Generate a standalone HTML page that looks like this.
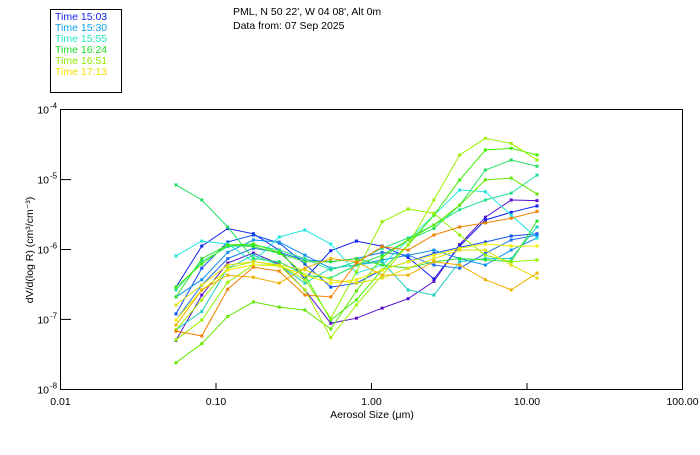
<!DOCTYPE html>
<html><head><meta charset="utf-8"><style>
body{margin:0;background:#fff;}
svg text{font-family:"Liberation Sans",sans-serif;}
</style></head><body>
<svg id="chart" width="700" height="450" xmlns="http://www.w3.org/2000/svg">
<rect width="700" height="450" fill="#fff"/>
<g>
<rect x="50.5" y="9.5" width="71" height="83" fill="none" stroke="#000"/>
<text x="55" y="20" font-size="10.5" fill="#1020f0">Time 15:03</text>
<text x="55" y="31" font-size="10.5" fill="#10a0f0">Time 15:30</text>
<text x="55" y="42" font-size="10.5" fill="#20e8c0">Time 15:55</text>
<text x="55" y="53" font-size="10.5" fill="#20e020">Time 16:24</text>
<text x="55" y="64" font-size="10.5" fill="#90e800">Time 16:51</text>
<text x="55" y="75" font-size="10.5" fill="#f0e000">Time 17:13</text>
</g>
<text x="233" y="15" font-size="10.5">PML, N 50 22', W 04 08', Alt 0m</text>
<text x="233" y="29" font-size="10.5">Data from: 07 Sep 2025</text>
<g id="axes"></g>
<g id="series"></g>
<rect x="60.5" y="109.5" width="622" height="280" fill="none" stroke="#000"/>
<text x="372" y="418" font-size="10.5" text-anchor="middle">Aerosol Size (μm)</text>
<text transform="translate(33,250) rotate(-90)" font-size="10.5" text-anchor="middle">dV/d(log R) (cm³/cm⁻³)</text>
</svg>
<script>
const sizes=[0.0553,0.081,0.119,0.174,0.255,0.373,0.547,0.80,1.17,1.72,2.52,3.69,5.40,7.91,11.6];
const xTicks=[0.01,0.1,1,10,100];
const xTickLabels=["0.01","0.10","1.00","10.00","100.00"];
const yTicks=[-8,-7,-6,-5,-4];
const sA=[5.0e-8,2.23e-7,6.4e-7,8.9e-7,6.2e-7,2.64e-7,8.8e-8,1.04e-7,1.45e-7,1.98e-7,3.5e-7,1.18e-6,2.9e-6,5.1e-6,5.0e-6];
const sB=[2.9e-7,1.12e-6,2.0e-6,1.68e-6,9.8e-7,3.8e-7,9.6e-7,1.32e-6,1.12e-6,7.7e-7,3.8e-7,1.12e-6,2.64e-6,3.4e-6,4.2e-6];
const sC=[1.2e-7,5.4e-7,1.28e-6,1.61e-6,1.24e-6,6.2e-7,2.9e-7,3.3e-7,5.1e-7,6.7e-7,8.8e-7,1.07e-6,1.28e-6,1.56e-6,1.68e-6];
const sD=[2.1e-7,3.7e-7,9.1e-7,1.37e-6,1.28e-6,8.3e-7,5.4e-7,6.0e-7,7.1e-7,8.3e-7,9.8e-7,7.4e-7,6.0e-7,9.8e-7,1.46e-6];
const sE=[9.8e-8,3.1e-7,7.4e-7,1.04e-6,9.1e-7,7.1e-7,6.7e-7,7.4e-7,9.1e-7,8.3e-7,6.0e-7,5.4e-7,8.8e-7,1.37e-6,1.61e-6];
const sF=[8.1e-7,1.32e-6,1.2e-6,6.7e-7,1.51e-6,1.9e-6,1.2e-6,4.6e-7,6.0e-7,1.37e-6,3.1e-6,7.1e-6,6.7e-6,3.1e-6,1.46e-6];
const sG=[7.1e-8,1.3e-7,5.4e-7,8.3e-7,6.0e-7,3.3e-7,5.4e-7,6.0e-7,6.7e-7,2.64e-7,2.23e-7,6.7e-7,7.4e-7,7.4e-7,2.1e-6];
const sH=[2.64e-7,6.7e-7,1.1e-6,1.16e-6,9.8e-7,7.4e-7,5.1e-7,6.7e-7,1.04e-6,1.46e-6,2.24e-6,3.7e-6,5.1e-6,6.4e-6,1.16e-5];
const sI=[8.4e-6,5.1e-6,2.1e-6,7.4e-7,6.7e-7,4.3e-7,3.9e-7,6.0e-7,8.3e-7,1.37e-6,2.0e-6,4.3e-6,1.37e-5,1.91e-5,1.55e-5];
const sJ=[2.1e-7,7.4e-7,1.16e-6,1.1e-6,8.8e-7,6.7e-7,6.7e-7,7.4e-7,6.0e-7,5.4e-7,6.7e-7,7.4e-7,7.1e-7,6.7e-7,2.55e-6];
const sK=[2.9e-7,6.2e-7,1.16e-6,1.2e-6,9.1e-7,4.3e-7,9.8e-8,1.9e-7,5.1e-7,1.16e-6,3.1e-6,9.9e-6,2.65e-5,2.8e-5,2.25e-5];
const sL=[5.1e-8,9.8e-8,3.4e-7,6.0e-7,6.0e-7,3.7e-7,1.04e-7,4.8e-7,2.5e-6,3.8e-6,3.3e-6,1.61e-6,8.3e-7,6.7e-7,7.1e-7];
const sM=[2.4e-8,4.5e-8,1.1e-7,1.78e-7,1.5e-7,1.36e-7,7.3e-8,2.55e-7,7.7e-7,1.37e-6,2.24e-6,4.3e-6,9.9e-6,1.05e-5,6.2e-6];
const sN=[7.1e-8,1.9e-7,5.4e-7,6.7e-7,6.0e-7,2.64e-7,5.5e-8,1.61e-7,4.3e-7,1.16e-6,5.1e-6,2.25e-5,3.9e-5,3.3e-5,1.91e-5];
const sO=[9.8e-8,2.64e-7,5.1e-7,6.0e-7,5.8e-7,4.3e-7,3.3e-7,3.7e-7,5.1e-7,6.7e-7,8.3e-7,1.04e-6,1.2e-6,1.12e-6,1.12e-6];
const sP=[1.61e-7,3.1e-7,6.0e-7,6.7e-7,6.0e-7,5.1e-7,3.7e-7,3.3e-7,3.9e-7,5.4e-7,7.4e-7,9.8e-7,9.8e-7,6.0e-7,3.9e-7];
const sQ=[8.3e-8,2.64e-7,4.3e-7,4.0e-7,3.3e-7,5.4e-7,7.4e-7,6.7e-7,4.3e-7,4.3e-7,6.7e-7,6.0e-7,3.7e-7,2.64e-7,4.6e-7];
const sR=[6.8e-8,5.8e-8,2.7e-7,5.6e-7,4.9e-7,2.23e-7,2.1e-7,6.4e-7,1.1e-6,9.8e-7,1.61e-6,2.1e-6,2.4e-6,2.8e-6,3.5e-6];
const seriesList=[sA,sB,sC,sD,sE,sF,sG,sH,sI,sJ,sK,sL,sM,sN,sO,sP,sQ,sR];
const seriesColors=["#5a10d0","#1020f0","#1050f0","#1090f0","#2070f0","#20e8e0","#20d0c0","#20e090","#20e060","#30e030","#40f000","#90f000","#60e800","#a0f000","#f0f000","#e0e010","#f0b000","#f08000"];
const NS="http://www.w3.org/2000/svg";
function xs(v){return 60.5+(Math.log10(v)+2)*155.5;}
function ys(v){return 109.7+(-4-Math.log10(v))*69.9;}
const axes=document.getElementById('axes');
xTicks.forEach((t,i)=>{
  const x=xs(t);
  if(i>0&&i<xTicks.length-1){
    const l=document.createElementNS(NS,'line');
    
    
    l.setAttribute('x1',x);l.setAttribute('x2',x);l.setAttribute('y1',389);l.setAttribute('y2',383);l.setAttribute('stroke','#000');
    axes.appendChild(l);
  }
  const tx=document.createElementNS(NS,'text');
  
  
  tx.setAttribute('x',x);tx.setAttribute('y',405);tx.setAttribute('font-size','10.5');tx.setAttribute('text-anchor','middle');
  tx.textContent=xTickLabels[i];
  axes.appendChild(tx);
});
yTicks.forEach((e,i)=>{
  const y=ys(Math.pow(10,e));
  if(i>0&&i<yTicks.length-1){
    const l=document.createElementNS(NS,'line');
    
    
    l.setAttribute('x1',60);l.setAttribute('x2',71);l.setAttribute('y1',y);l.setAttribute('y2',y);l.setAttribute('stroke','#000');
    axes.appendChild(l);
  }
  const tx=document.createElementNS(NS,'text');
  
  
  tx.setAttribute('x',49);tx.setAttribute('y',y+4);tx.setAttribute('font-size','10.5');tx.setAttribute('text-anchor','end');
  tx.textContent='10';
  axes.appendChild(tx);
  const sup=document.createElementNS(NS,'text');
  
  
  sup.setAttribute('x',50);sup.setAttribute('y',y-1);sup.setAttribute('font-size','8');
  sup.textContent=String(e);
  axes.appendChild(sup);
});
const sg=document.getElementById('series');
seriesList.forEach((arr,k)=>{
  const g=document.createElementNS(NS,'g');
  
  
  const pts=arr.map((v,i)=>xs(sizes[i]).toFixed(1)+','+ys(v).toFixed(1)).join(' ');
  const pl=document.createElementNS(NS,'polyline');
  
  
  pl.setAttribute('points',pts);pl.setAttribute('fill','none');pl.setAttribute('stroke',seriesColors[k]);pl.setAttribute('stroke-width','1');
  g.appendChild(pl);
  arr.forEach((v,i)=>{
    const r=document.createElementNS(NS,'rect');
    
    
    r.setAttribute('x',xs(sizes[i])-1.5);r.setAttribute('y',ys(v)-1.5);r.setAttribute('width',3);r.setAttribute('height',3);r.setAttribute('fill',seriesColors[k]);
    g.appendChild(r);
  });
  sg.appendChild(g);
});
</script>
</body></html>
